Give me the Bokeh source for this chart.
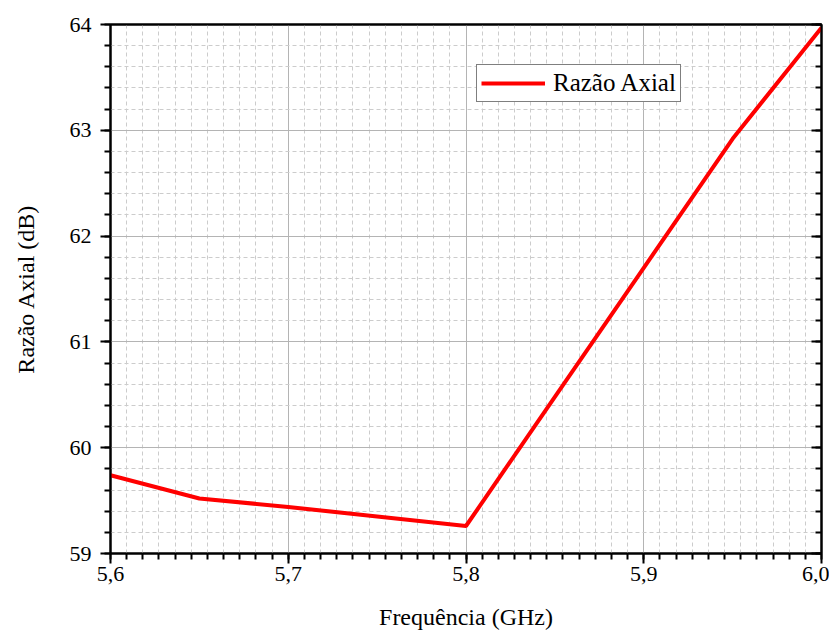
from bokeh.plotting import figure
from bokeh.embed import file_html
from bokeh.resources import INLINE
from bokeh.models import (LinearAxis, SingleIntervalTicker, CustomJSTickFormatter,
                          Range1d, Legend, LegendItem, Grid)

freq = [5.60, 5.65, 5.70, 5.75, 5.80, 5.85, 5.90, 5.95, 6.00]
axial_ratio = [59.74, 59.52, 59.44, 59.35, 59.26, 60.48, 61.70, 62.92, 63.97]
series_name = "Razão Axial"
x_label = "Frequência (GHz)"
y_label = "Razão Axial (dB)"

FONT = "Liberation Serif"

p = figure(width=829, height=632, output_backend="svg", toolbar_location=None,
           x_range=Range1d(5.6, 6.0), y_range=Range1d(59, 64),
           min_border_left=110, min_border_right=8, min_border_top=24,
           min_border_bottom=79, x_axis_type=None, y_axis_type=None)
p.background_fill_color = "white"
p.border_fill_color = "white"
p.outline_line_color = "black"
p.outline_line_width = 2

xt = SingleIntervalTicker(interval=0.1, num_minor_ticks=11)
yt = SingleIntervalTicker(interval=1, num_minor_ticks=5)
xfmt = CustomJSTickFormatter(code="return tick.toFixed(1).replace('.', ',');")
yfmt = CustomJSTickFormatter(code="return tick.toFixed(0);")
blank = CustomJSTickFormatter(code="return '';")

def style(ax):
    ax.axis_line_color = "black"
    ax.axis_line_width = 2
    ax.major_tick_line_color = "black"
    ax.minor_tick_line_color = "black"
    ax.major_tick_line_width = 2
    ax.minor_tick_line_width = 2
    ax.major_label_text_font = FONT
    ax.major_label_text_font_size = "22px"
    ax.major_label_text_color = "black"
    ax.axis_label_text_font = FONT
    ax.axis_label_text_font_style = "normal"
    ax.axis_label_text_color = "black"

xb = LinearAxis(ticker=xt, formatter=xfmt, axis_label=x_label)
style(xb)
xb.axis_label_text_font_size = "24px"
xb.major_tick_out = 10
xb.major_tick_in = 0
xb.minor_tick_out = 6
xb.minor_tick_in = 0
xb.major_label_standoff = 3
xb.axis_label_standoff = 20
p.add_layout(xb, "below")

yl = LinearAxis(ticker=yt, formatter=yfmt, axis_label=y_label)
style(yl)
yl.axis_label_text_font_size = "24px"
yl.major_tick_out = 10
yl.major_tick_in = 0
yl.minor_tick_out = 6
yl.minor_tick_in = 0
yl.major_label_standoff = 9
yl.axis_label_standoff = 28
p.add_layout(yl, "left")

xtop = LinearAxis(ticker=xt, formatter=blank)
style(xtop)
xtop.major_tick_out = 0
xtop.major_tick_in = 0
xtop.minor_tick_out = 0
xtop.minor_tick_in = 0
xtop.major_label_text_font_size = "0px"
p.add_layout(xtop, "above")

yr = LinearAxis(ticker=yt, formatter=blank)
style(yr)
yr.major_tick_out = 0
yr.major_tick_in = 10
yr.minor_tick_out = 0
yr.minor_tick_in = 6
yr.major_label_text_font_size = "0px"
p.add_layout(yr, "right")

gx = Grid(dimension=0, ticker=xt)
gy = Grid(dimension=1, ticker=yt)
for g in (gx, gy):
    g.grid_line_color = "#b4b4b4"
    g.grid_line_width = 1
    g.minor_grid_line_color = "#cccccc"
    g.minor_grid_line_dash = "4 3"
    g.minor_grid_line_width = 1
    p.add_layout(g)

r = p.line(freq, axial_ratio, line_color="#ff0000", line_width=4)

legend = Legend(items=[LegendItem(label=series_name, renderers=[r])],
                location=(366, 451))
legend.label_text_font = FONT
legend.label_text_font_size = "25px"
legend.label_text_color = "black"
legend.glyph_width = 64
legend.glyph_height = 20
legend.label_height = 20
legend.label_standoff = 8
legend.padding = 4
legend.margin = 0
legend.spacing = 0
legend.border_line_color = "black"
legend.border_line_width = 1
legend.background_fill_color = "white"
legend.background_fill_alpha = 1
p.add_layout(legend, "center")

open("out.html", "w").write(file_html(p, INLINE))
